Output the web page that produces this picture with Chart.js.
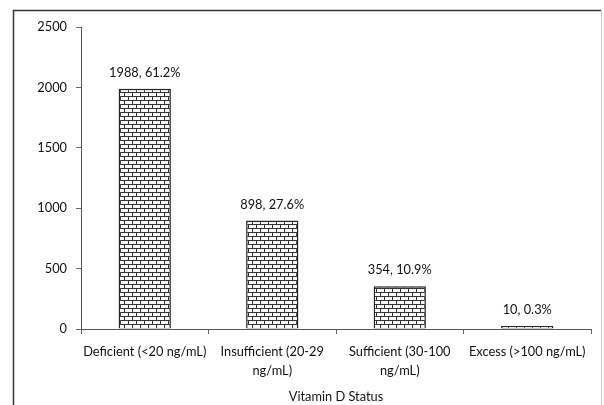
<!DOCTYPE html>
<html>
<head>
<meta charset="utf-8">
<script src="https://cdn.jsdelivr.net/npm/chart.js@4/dist/chart.umd.min.js"></script>
<style>
  html, body { margin: 0; padding: 0; background: #fff; }
  #chart { display: block; }
</style>
</head>
<body>
<canvas id="chart" width="604" height="405"></canvas>
<script>
Chart.defaults.devicePixelRatio = 1;
Chart.defaults.font.family = "Lato, 'Noto Sans', sans-serif";
Chart.defaults.font.size = 12.8;
Chart.defaults.color = "#111";

const categories = [
  "Deficient (<20 ng/mL)",
  ["Insufficient (20-29", "ng/mL)"],
  ["Sufficient (30-100", "ng/mL)"],
  "Excess (>100 ng/mL)",
];
const counts = [1988, 898, 354, 10];
const percents = ["61.2%", "27.6%", "10.9%", "0.3%"];
const yTicks = [0, 500, 1000, 1500, 2000, 2500];

// brick fill like the original hatch
function brickPattern() {
  const c = document.createElement("canvas");
  c.width = 8;
  c.height = 8;
  const g = c.getContext("2d");
  g.fillStyle = "#fafafa";
  g.fillRect(0, 0, 8, 8);
  g.fillStyle = "#333";
  g.fillRect(0, 0, 8, 1);
  g.fillRect(0, 4, 8, 1);
  g.fillRect(0, 1, 1, 3);
  g.fillRect(4, 5, 1, 3);
  return g.createPattern(c, "repeat");
}

const frame = {
  id: "frame",
  afterDraw(chart) {
    const ctx = chart.ctx;
    ctx.save();
    ctx.strokeStyle = "#333";
    ctx.lineWidth = 1.5;
    ctx.beginPath();
    ctx.moveTo(13.5, 410);
    ctx.lineTo(13.5, 10.5);
    ctx.lineTo(601, 10.5);
    ctx.stroke();
    ctx.strokeStyle = "#ccc";
    ctx.lineWidth = 1;
    ctx.beginPath();
    ctx.moveTo(601.5, 10.5);
    ctx.lineTo(601.5, 410);
    ctx.stroke();
    ctx.restore();
  },
};

const barLabels = {
  id: "barLabels",
  afterDatasetsDraw(chart) {
    const ctx = chart.ctx;
    const meta = chart.getDatasetMeta(0);
    ctx.save();
    ctx.font = "12.8px Lato, 'Noto Sans', sans-serif";
    ctx.fillStyle = "#111";
    ctx.textAlign = "center";
    ctx.textBaseline = "middle";
    meta.data.forEach((bar, i) => {
      ctx.fillText(counts[i] + ", " + percents[i], bar.x, bar.y - 16);
    });
    ctx.restore();
  },
};

new Chart(document.getElementById("chart"), {
  type: "bar",
  data: {
    labels: categories,
    datasets: [
      {
        data: counts,
        backgroundColor: brickPattern(),
        borderColor: "#222",
        borderWidth: 1.5,
        minBarLength: 3,
        barPercentage: 0.41,
        categoryPercentage: 1,
      },
    ],
  },
  options: {
    responsive: false,
    animation: false,
    layout: { padding: { top: 27, right: 13, left: 0, bottom: 0 } },
    plugins: { legend: { display: false }, tooltip: { enabled: false } },
    scales: {
      x: {
        afterFit(scale) {
          scale.height = 76;
        },
        grid: {
          drawOnChartArea: false,
          drawTicks: true,
          tickLength: 5,
          color: "#666",
        },
        border: { color: "#555", width: 1 },
        ticks: {
          padding: 9,
          maxRotation: 0,
          autoSkip: false,
          font: { lineHeight: 1.46 },
        },
        title: {
          display: true,
          text: "Vitamin D Status",
          padding: 0,
          color: "#111",
        },
      },
      y: {
        min: 0,
        max: 2500,
        afterFit(scale) {
          scale.width = 81;
        },
        afterBuildTicks(scale) {
          scale.ticks = yTicks.map((v) => ({ value: v }));
        },
        grid: {
          drawOnChartArea: false,
          drawTicks: true,
          tickLength: 5,
          color: "#666",
        },
        border: { color: "#555", width: 1 },
        ticks: { padding: 9, callback: (v) => String(v) },
      },
    },
  },
  plugins: [frame, barLabels],
});
</script>
</body>
</html>
